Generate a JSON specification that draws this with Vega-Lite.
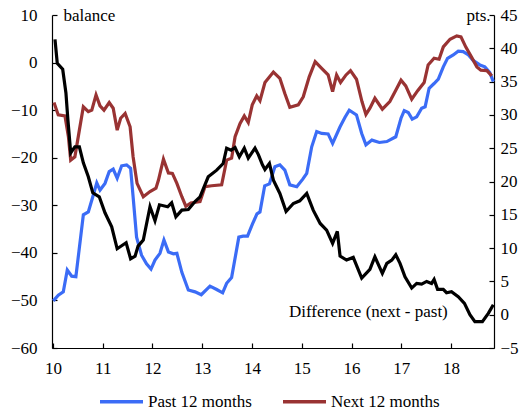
{
  "$schema": "https://vega.github.io/schema/vega-lite/v6.json",
  "width": 442,
  "height": 333,
  "autosize": "none",
  "padding": {"left": 52, "top": 15, "right": 38, "bottom": 62},
  "background": "white",
  "config": {
    "font": "Liberation Serif",
    "view": {"stroke": null},
    "axis": {
      "labelFont": "Liberation Serif", "labelFontSize": 17, "labelColor": "black",
      "domainColor": "black", "domainWidth": 1.2, "tickColor": "black", "tickWidth": 1.2, "grid": false,
      "titleFont": "Liberation Serif", "titleFontSize": 17, "titleFontWeight": "normal", "titleColor": "black"
    },
    "legend": {
      "labelFont": "Liberation Serif", "labelFontSize": 17, "labelColor": "black"
    }
  },
  "layer": [
    {
      "data": {"values": [
        {"t":10.006,"s":"Past 12 months","v":-50.1},{"t":10.107,"s":"Past 12 months","v":-48.9},{"t":10.207,"s":"Past 12 months","v":-48.2},{"t":10.287,"s":"Past 12 months","v":-43.6},{"t":10.376,"s":"Past 12 months","v":-44.9},{"t":10.46,"s":"Past 12 months","v":-45.0},{"t":10.61,"s":"Past 12 months","v":-32.0},{"t":10.71,"s":"Past 12 months","v":-31.4},{"t":10.80,"s":"Past 12 months","v":-28.2},{"t":10.88,"s":"Past 12 months","v":-25.3},{"t":10.945,"s":"Past 12 months","v":-26.8},{"t":11.045,"s":"Past 12 months","v":-25.4},{"t":11.13,"s":"Past 12 months","v":-22.9},{"t":11.21,"s":"Past 12 months","v":-22.4},{"t":11.29,"s":"Past 12 months","v":-24.3},{"t":11.38,"s":"Past 12 months","v":-21.7},{"t":11.48,"s":"Past 12 months","v":-21.5},{"t":11.56,"s":"Past 12 months","v":-22.2},{"t":11.61,"s":"Past 12 months","v":-28.2},{"t":11.68,"s":"Past 12 months","v":-36.7},{"t":11.78,"s":"Past 12 months","v":-40.5},{"t":11.88,"s":"Past 12 months","v":-42.3},{"t":11.97,"s":"Past 12 months","v":-43.4},{"t":12.05,"s":"Past 12 months","v":-41.5},{"t":12.15,"s":"Past 12 months","v":-40.1},{"t":12.23,"s":"Past 12 months","v":-37.3},{"t":12.32,"s":"Past 12 months","v":-39.8},{"t":12.42,"s":"Past 12 months","v":-40.2},{"t":12.49,"s":"Past 12 months","v":-40.1},{"t":12.59,"s":"Past 12 months","v":-44.1},{"t":12.72,"s":"Past 12 months","v":-47.8},{"t":12.855,"s":"Past 12 months","v":-48.2},{"t":12.98,"s":"Past 12 months","v":-48.8},{"t":13.155,"s":"Past 12 months","v":-47.0},{"t":13.29,"s":"Past 12 months","v":-47.7},{"t":13.41,"s":"Past 12 months","v":-48.4},{"t":13.49,"s":"Past 12 months","v":-46.4},{"t":13.59,"s":"Past 12 months","v":-45.2},{"t":13.735,"s":"Past 12 months","v":-36.7},{"t":13.82,"s":"Past 12 months","v":-36.5},{"t":13.91,"s":"Past 12 months","v":-36.5},{"t":14.01,"s":"Past 12 months","v":-33.9},{"t":14.10,"s":"Past 12 months","v":-31.8},{"t":14.16,"s":"Past 12 months","v":-31.4},{"t":14.255,"s":"Past 12 months","v":-25.9},{"t":14.35,"s":"Past 12 months","v":-25.5},{"t":14.46,"s":"Past 12 months","v":-21.9},{"t":14.56,"s":"Past 12 months","v":-21.5},{"t":14.66,"s":"Past 12 months","v":-22.6},{"t":14.76,"s":"Past 12 months","v":-25.7},{"t":14.90,"s":"Past 12 months","v":-26.1},{"t":15.02,"s":"Past 12 months","v":-24.5},{"t":15.10,"s":"Past 12 months","v":-23.3},{"t":15.20,"s":"Past 12 months","v":-17.7},{"t":15.30,"s":"Past 12 months","v":-14.5},{"t":15.40,"s":"Past 12 months","v":-14.9},{"t":15.53,"s":"Past 12 months","v":-15.0},{"t":15.62,"s":"Past 12 months","v":-17.0},{"t":15.77,"s":"Past 12 months","v":-13.5},{"t":15.87,"s":"Past 12 months","v":-11.5},{"t":15.955,"s":"Past 12 months","v":-10.0},{"t":16.10,"s":"Past 12 months","v":-11.0},{"t":16.205,"s":"Past 12 months","v":-14.9},{"t":16.29,"s":"Past 12 months","v":-17.3},{"t":16.41,"s":"Past 12 months","v":-16.3},{"t":16.56,"s":"Past 12 months","v":-16.8},{"t":16.71,"s":"Past 12 months","v":-16.6},{"t":16.89,"s":"Past 12 months","v":-15.6},{"t":16.995,"s":"Past 12 months","v":-11.7},{"t":17.06,"s":"Past 12 months","v":-10.1},{"t":17.14,"s":"Past 12 months","v":-10.5},{"t":17.22,"s":"Past 12 months","v":-11.9},{"t":17.31,"s":"Past 12 months","v":-11.4},{"t":17.41,"s":"Past 12 months","v":-9.6},{"t":17.48,"s":"Past 12 months","v":-9.3},{"t":17.56,"s":"Past 12 months","v":-5.4},{"t":17.66,"s":"Past 12 months","v":-4.4},{"t":17.745,"s":"Past 12 months","v":-3.5},{"t":17.845,"s":"Past 12 months","v":-0.9},{"t":17.93,"s":"Past 12 months","v":0.9},{"t":18.045,"s":"Past 12 months","v":1.6},{"t":18.145,"s":"Past 12 months","v":2.4},{"t":18.245,"s":"Past 12 months","v":2.3},{"t":18.35,"s":"Past 12 months","v":1.6},{"t":18.45,"s":"Past 12 months","v":0.4},{"t":18.58,"s":"Past 12 months","v":-0.5},{"t":18.68,"s":"Past 12 months","v":-0.9},{"t":18.78,"s":"Past 12 months","v":-2.1},{"t":18.85,"s":"Past 12 months","v":-4.0},
        {"t":10.02,"s":"Next 12 months","v":-8.4},{"t":10.105,"s":"Next 12 months","v":-11.0},{"t":10.24,"s":"Next 12 months","v":-11.2},{"t":10.31,"s":"Next 12 months","v":-15.6},{"t":10.356,"s":"Next 12 months","v":-20.5},{"t":10.44,"s":"Next 12 months","v":-19.8},{"t":10.53,"s":"Next 12 months","v":-14.2},{"t":10.61,"s":"Next 12 months","v":-9.3},{"t":10.71,"s":"Next 12 months","v":-10.3},{"t":10.78,"s":"Next 12 months","v":-10.0},{"t":10.865,"s":"Next 12 months","v":-6.8},{"t":10.945,"s":"Next 12 months","v":-9.1},{"t":11.025,"s":"Next 12 months","v":-10.0},{"t":11.13,"s":"Next 12 months","v":-8.4},{"t":11.21,"s":"Next 12 months","v":-9.6},{"t":11.29,"s":"Next 12 months","v":-14.2},{"t":11.36,"s":"Next 12 months","v":-11.7},{"t":11.45,"s":"Next 12 months","v":-10.7},{"t":11.55,"s":"Next 12 months","v":-13.5},{"t":11.61,"s":"Next 12 months","v":-19.8},{"t":11.69,"s":"Next 12 months","v":-25.4},{"t":11.815,"s":"Next 12 months","v":-28.2},{"t":11.95,"s":"Next 12 months","v":-27.1},{"t":12.07,"s":"Next 12 months","v":-26.4},{"t":12.12,"s":"Next 12 months","v":-24.7},{"t":12.22,"s":"Next 12 months","v":-20.3},{"t":12.32,"s":"Next 12 months","v":-23.2},{"t":12.40,"s":"Next 12 months","v":-23.3},{"t":12.49,"s":"Next 12 months","v":-25.4},{"t":12.59,"s":"Next 12 months","v":-28.2},{"t":12.67,"s":"Next 12 months","v":-30.2},{"t":12.77,"s":"Next 12 months","v":-29.5},{"t":12.955,"s":"Next 12 months","v":-29.2},{"t":13.055,"s":"Next 12 months","v":-26.1},{"t":13.19,"s":"Next 12 months","v":-25.9},{"t":13.39,"s":"Next 12 months","v":-25.7},{"t":13.49,"s":"Next 12 months","v":-20.5},{"t":13.59,"s":"Next 12 months","v":-20.1},{"t":13.66,"s":"Next 12 months","v":-15.6},{"t":13.76,"s":"Next 12 months","v":-12.8},{"t":13.845,"s":"Next 12 months","v":-11.2},{"t":13.925,"s":"Next 12 months","v":-12.6},{"t":14.005,"s":"Next 12 months","v":-8.9},{"t":14.095,"s":"Next 12 months","v":-7.0},{"t":14.16,"s":"Next 12 months","v":-8.0},{"t":14.26,"s":"Next 12 months","v":-4.2},{"t":14.43,"s":"Next 12 months","v":-2.0},{"t":14.56,"s":"Next 12 months","v":-3.3},{"t":14.66,"s":"Next 12 months","v":-6.5},{"t":14.76,"s":"Next 12 months","v":-9.4},{"t":14.93,"s":"Next 12 months","v":-8.9},{"t":15.03,"s":"Next 12 months","v":-7.2},{"t":15.15,"s":"Next 12 months","v":-3.0},{"t":15.27,"s":"Next 12 months","v":0.2},{"t":15.40,"s":"Next 12 months","v":-1.2},{"t":15.53,"s":"Next 12 months","v":-2.6},{"t":15.62,"s":"Next 12 months","v":-6.1},{"t":15.70,"s":"Next 12 months","v":-2.6},{"t":15.78,"s":"Next 12 months","v":-4.2},{"t":15.89,"s":"Next 12 months","v":-2.6},{"t":15.98,"s":"Next 12 months","v":-1.7},{"t":16.10,"s":"Next 12 months","v":-3.5},{"t":16.21,"s":"Next 12 months","v":-8.2},{"t":16.29,"s":"Next 12 months","v":-10.9},{"t":16.37,"s":"Next 12 months","v":-9.6},{"t":16.47,"s":"Next 12 months","v":-7.5},{"t":16.62,"s":"Next 12 months","v":-9.8},{"t":16.77,"s":"Next 12 months","v":-8.2},{"t":16.89,"s":"Next 12 months","v":-5.8},{"t":16.995,"s":"Next 12 months","v":-3.7},{"t":17.09,"s":"Next 12 months","v":-4.9},{"t":17.21,"s":"Next 12 months","v":-7.7},{"t":17.33,"s":"Next 12 months","v":-5.9},{"t":17.46,"s":"Next 12 months","v":-4.2},{"t":17.54,"s":"Next 12 months","v":-0.5},{"t":17.66,"s":"Next 12 months","v":0.9},{"t":17.76,"s":"Next 12 months","v":0.7},{"t":17.845,"s":"Next 12 months","v":3.3},{"t":17.98,"s":"Next 12 months","v":4.9},{"t":18.115,"s":"Next 12 months","v":5.6},{"t":18.20,"s":"Next 12 months","v":5.4},{"t":18.295,"s":"Next 12 months","v":3.3},{"t":18.415,"s":"Next 12 months","v":1.1},{"t":18.52,"s":"Next 12 months","v":-0.9},{"t":18.60,"s":"Next 12 months","v":-1.6},{"t":18.72,"s":"Next 12 months","v":-1.7},{"t":18.82,"s":"Next 12 months","v":-2.8}
      ]},
      "mark": {"type": "line", "strokeWidth": 3.2},
      "encoding": {
        "x": {"field": "t", "type": "quantitative",
          "scale": {"domain": [9.98, 18.864], "nice": false, "zero": false},
          "axis": {"values": [10,11,12,13,14,15,16,17,18], "format": "d", "title": null, "tickSize": -5, "labelPadding": 17, "labelFlush": false}},
        "y": {"field": "v", "type": "quantitative",
          "scale": {"domain": [-60, 10], "nice": false, "zero": false},
          "axis": {"values": [-60,-50,-40,-30,-20,-10,0,10], "tickSize": -5, "labelPadding": 20, "labelFlush": false,
            "title": "balance", "titleAngle": 0, "titleX": 11, "titleY": 5, "titleAlign": "left", "titleBaseline": "alphabetic"}},
        "color": {"field": "s", "type": "nominal",
          "scale": {"domain": ["Past 12 months", "Next 12 months"], "range": ["#3b6cf6", "#993333"]},
          "legend": {"orient": "none", "legendX": 46, "legendY": 363, "direction": "horizontal", "title": null,
            "symbolType": "stroke", "symbolSize": 1849, "symbolStrokeWidth": 3.5, "labelOffset": 3, "columnPadding": 24}}
      }
    },
    {
      "data": {"values": [
        {"t":10.04,"r":41.35},{"t":10.086,"r":37.75},{"t":10.195,"r":36.85},{"t":10.26,"r":33.3},{"t":10.30,"r":29.2},{"t":10.356,"r":24.3},{"t":10.44,"r":25.2},{"t":10.53,"r":25.2},{"t":10.61,"r":22.8},{"t":10.71,"r":20.7},{"t":10.80,"r":18.3},{"t":10.93,"r":17.7},{"t":11.045,"r":15.3},{"t":11.18,"r":13.2},{"t":11.29,"r":9.9},{"t":11.47,"r":10.8},{"t":11.56,"r":8.4},{"t":11.65,"r":8.8},{"t":11.71,"r":10.3},{"t":11.815,"r":11.2},{"t":11.95,"r":16.2},{"t":12.05,"r":14.1},{"t":12.14,"r":16.5},{"t":12.305,"r":16.2},{"t":12.385,"r":16.8},{"t":12.47,"r":14.7},{"t":12.59,"r":15.7},{"t":12.72,"r":15.8},{"t":12.855,"r":17.0},{"t":12.955,"r":17.7},{"t":13.12,"r":20.7},{"t":13.29,"r":21.7},{"t":13.42,"r":22.7},{"t":13.49,"r":25.0},{"t":13.58,"r":24.7},{"t":13.66,"r":25.1},{"t":13.745,"r":23.7},{"t":13.845,"r":25.0},{"t":13.925,"r":23.5},{"t":14.06,"r":25.0},{"t":14.13,"r":24.0},{"t":14.21,"r":22.5},{"t":14.26,"r":21.8},{"t":14.35,"r":22.7},{"t":14.43,"r":20.2},{"t":14.56,"r":18.2},{"t":14.685,"r":15.5},{"t":14.83,"r":16.7},{"t":14.96,"r":17.1},{"t":15.10,"r":18.2},{"t":15.23,"r":15.7},{"t":15.37,"r":13.7},{"t":15.50,"r":12.7},{"t":15.62,"r":10.7},{"t":15.715,"r":12.5},{"t":15.77,"r":8.8},{"t":15.90,"r":8.2},{"t":16.035,"r":8.6},{"t":16.205,"r":5.5},{"t":16.37,"r":6.8},{"t":16.47,"r":8.7},{"t":16.62,"r":6.2},{"t":16.71,"r":7.7},{"t":16.81,"r":8.2},{"t":16.89,"r":9.0},{"t":16.975,"r":7.7},{"t":17.075,"r":5.7},{"t":17.21,"r":4.0},{"t":17.31,"r":4.7},{"t":17.41,"r":4.6},{"t":17.51,"r":5.0},{"t":17.61,"r":4.7},{"t":17.66,"r":5.3},{"t":17.73,"r":3.8},{"t":17.845,"r":3.8},{"t":17.91,"r":3.3},{"t":18.01,"r":3.45},{"t":18.145,"r":2.7},{"t":18.27,"r":1.7},{"t":18.38,"r":0.0},{"t":18.48,"r":-1.05},{"t":18.63,"r":-1.05},{"t":18.75,"r":0.2},{"t":18.85,"r":1.5}
      ]},
      "mark": {"type": "line", "strokeWidth": 3.2, "color": "black"},
      "encoding": {
        "x": {"field": "t", "type": "quantitative", "scale": {"domain": [9.98, 18.864], "nice": false, "zero": false}},
        "y": {"field": "r", "type": "quantitative",
          "scale": {"domain": [-5, 45], "nice": false, "zero": false},
          "axis": {"orient": "right", "values": [-5,0,5,10,15,20,25,30,35,40,45], "tickSize": -5, "labelPadding": 11, "labelFlush": false,
            "title": "pts.", "titleAngle": 0, "titleX": -4, "titleY": 5, "titleAlign": "right", "titleBaseline": "alphabetic"}}
      }
    },
    {
      "data": {"values": [{"t": 14.744, "r": 0.4, "label": "Difference (next - past)"}]},
      "mark": {"type": "text", "align": "left", "baseline": "middle", "fontSize": 17, "font": "Liberation Serif", "color": "black"},
      "encoding": {
        "x": {"field": "t", "type": "quantitative", "scale": {"domain": [9.98, 18.864], "nice": false, "zero": false}},
        "y": {"field": "r", "type": "quantitative", "scale": {"domain": [-5, 45], "nice": false, "zero": false}, "axis": null},
        "text": {"field": "label"}
      }
    }
  ],
  "resolve": {"scale": {"y": "independent"}}
}
